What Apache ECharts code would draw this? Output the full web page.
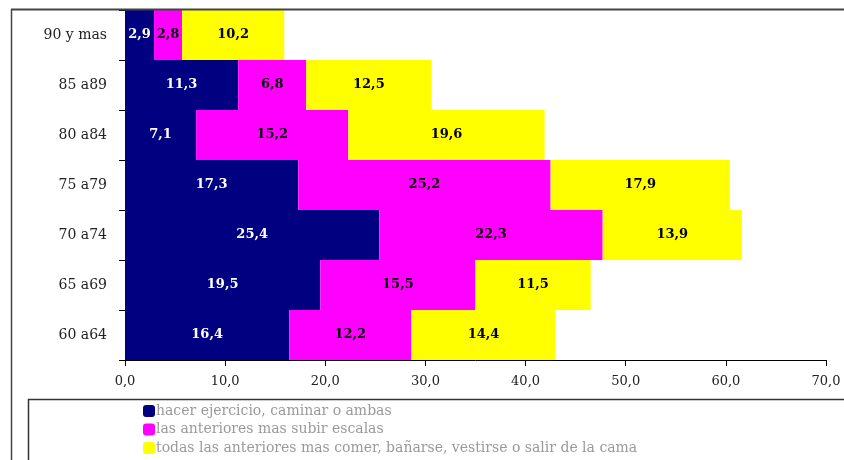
<!DOCTYPE html>
<html>
<head>
<meta charset="utf-8">
<script src="https://cdn.jsdelivr.net/npm/echarts@6/dist/echarts.min.js"></script>
<style>
  html, body { margin: 0; padding: 0; background: #fff; }
  #chart { width: 844px; height: 460px; }
</style>
</head>
<body>
<div id="chart"></div>
<script>
// Age groups, bottom to top
const ageGroups = ['60 a64', '65 a69', '70 a74', '75 a79', '80 a84', '85 a89', '90 y mas'];

// Percentages per difficulty level
const seriesNames = [
  'hacer ejercicio, caminar o ambas',
  'las anteriores mas subir escalas',
  'todas las anteriores mas comer, bañarse, vestirse o salir de la cama'
];
const exerciseWalk = [16.4, 19.5, 25.4, 17.3, 7.1, 11.3, 2.9];
const plusStairs   = [12.2, 15.5, 22.3, 25.2, 15.2, 6.8, 2.8];
const plusDaily    = [14.4, 11.5, 13.9, 17.9, 19.6, 12.5, 10.2];

const xTicks = { min: 0, max: 70, interval: 10 };

const colors = ['#000080', '#FF00FF', '#FFFF00'];
const labelColors = ['#ffffff', '#000000', '#000000'];
const serif = '"DejaVu Serif", "Liberation Serif", serif';
const fmt = v => Number(v).toFixed(1).replace('.', ',');

const values = [exerciseWalk, plusStairs, plusDaily];

const chart = echarts.init(document.getElementById('chart'), null, { renderer: 'canvas' });

chart.setOption({
  animation: false,
  backgroundColor: '#ffffff',
  grid: { left: 125, right: 18, top: 10, bottom: 100, containLabel: false },
  xAxis: {
    type: 'value',
    min: xTicks.min,
    max: xTicks.max,
    interval: xTicks.interval,
    splitLine: { show: false },
    axisLine: { show: true, lineStyle: { color: '#000', width: 1 } },
    axisTick: { show: true, length: 6, lineStyle: { color: '#000' } },
    axisLabel: {
      formatter: v => fmt(v),
      color: '#222',
      fontFamily: serif,
      fontSize: 13,
      margin: 15
    }
  },
  yAxis: {
    type: 'category',
    data: ageGroups,
    axisLine: { show: true, lineStyle: { color: '#000', width: 1 } },
    axisTick: { show: true, length: 6, lineStyle: { color: '#000' } },
    axisLabel: {
      color: '#222',
      fontFamily: serif,
      fontSize: 14,
      margin: 18
    }
  },
  legend: {
    orient: 'vertical',
    left: 143,
    top: 404,
    height: 80,
    padding: 0,
    itemWidth: 12,
    itemHeight: 12,
    itemGap: 4.5,
    icon: 'roundRect',
    data: seriesNames,
    textStyle: { color: '#9a9a9a', fontFamily: serif, fontSize: 14, padding: [0, 0, 0, -4] }
  },
  graphic: [
    { type: 'line', shape: { x1: 11, y1: 9.5, x2: 844, y2: 9.5 }, style: { stroke: '#444', lineWidth: 2 }, z: 100 },
    { type: 'line', shape: { x1: 11.5, y1: 9, x2: 11.5, y2: 460 }, style: { stroke: '#444', lineWidth: 1.5 }, z: 100 },
    { type: 'rect', shape: { x: 28.5, y: 399.5, width: 830, height: 80 }, style: { fill: 'none', stroke: '#333', lineWidth: 1.5 }, z: 1 }
  ],
  series: seriesNames.map((name, i) => ({
    name,
    type: 'bar',
    stack: 'total',
    barCategoryGap: 0,
    barWidth: '100%',
    data: values[i],
    itemStyle: { color: colors[i] },
    label: {
      show: true,
      position: 'inside',
      formatter: p => fmt(p.value),
      color: labelColors[i],
      fontFamily: serif,
      fontWeight: 'bold',
      fontSize: 13
    }
  }))
});
</script>
</body>
</html>
